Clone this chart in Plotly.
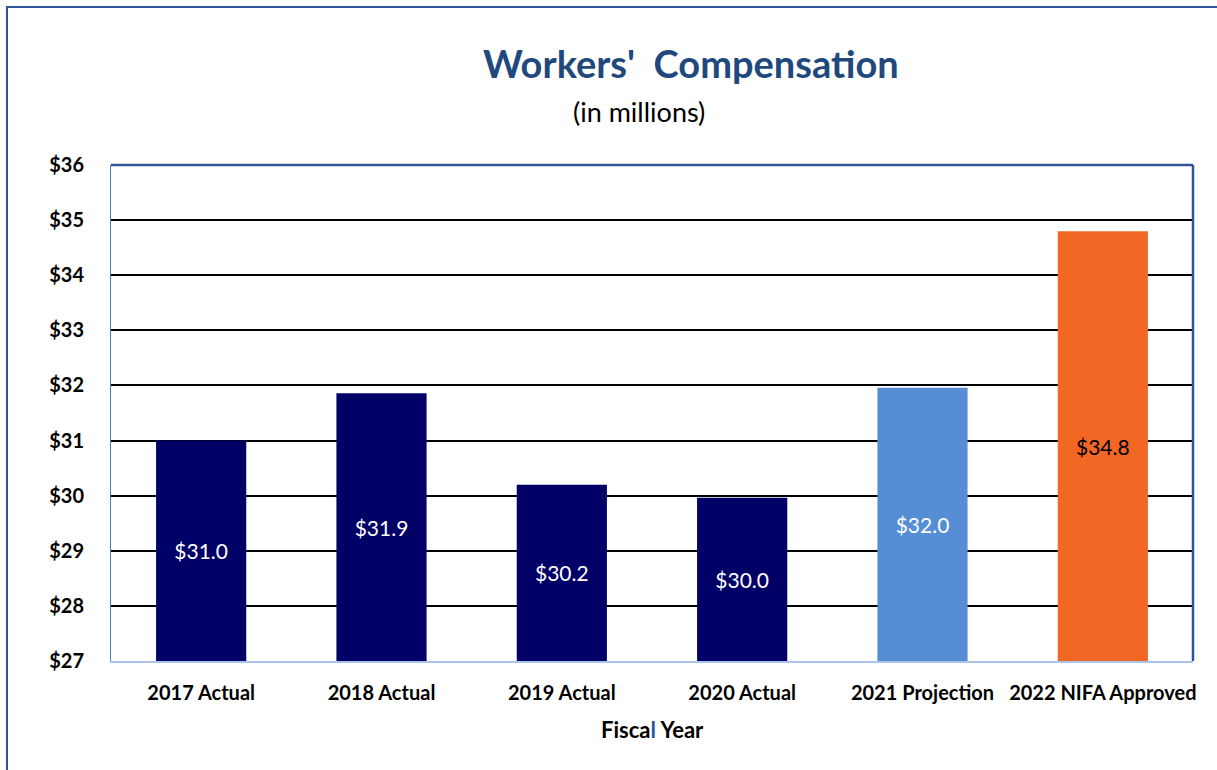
import plotly.graph_objects as go

categories = ["2017 Actual", "2018 Actual", "2019 Actual", "2020 Actual", "2021 Projection", "2022 NIFA Approved"]
values = [31.0, 31.86, 30.2, 29.96, 31.96, 34.8]
bar_colors = ["#000066", "#000066", "#000066", "#000066", "#558ED5", "#F26724"]
label_colors = ["#FFFFFF", "#FFFFFF", "#FFFFFF", "#FFFFFF", "#FFFFFF", "#000000"]
tick_vals = [27, 28, 29, 30, 31, 32, 33, 34, 35, 36]
tick_text = ["$27", "$28", "$29", "$30", "$31", "$32", "$33", "$34", "$35", "$36"]

FONT = "Lato, 'Open Sans', sans-serif"

fig = go.Figure(go.Bar(
    x=categories,
    y=[v - 27 for v in values],
    base=27,
    customdata=values,
    marker=dict(color=bar_colors, line=dict(width=0)),
    texttemplate="$%{customdata:.1f}",
    textposition="inside",
    insidetextanchor="middle",
    textfont=dict(family=FONT, size=21, color=label_colors),
    textangle=0,
    hoverinfo="skip",
))

W, H = 1217, 770
L, T = 111, 165
pw, ph = 1082, 496
R = W - L - pw
B = H - T - ph

def px_x(p):
    return (p - L) / pw

def px_y(p):
    return (T + ph - p) / ph

fig.update_layout(
    width=W, height=H,
    margin=dict(l=L, r=R, t=T, b=B),
    paper_bgcolor="white", plot_bgcolor="white",
    bargap=0.5,
    showlegend=False,
    font=dict(family=FONT, color="black"),
    xaxis=dict(
        showgrid=False, showline=True, linecolor="#A9C4E8", linewidth=2,
        tickfont=dict(family=FONT, size=20, color="black", weight="bold"),
        ticks="", ticklabelstandoff=13,
    ),
    yaxis=dict(
        range=[27, 36], tickvals=tick_vals, ticktext=tick_text,
        showgrid=True, gridcolor="black", gridwidth=2,
        showline=True, linecolor="#4F7AB5", linewidth=1,
        zeroline=False,
        tickfont=dict(family=FONT, size=20, color="black", weight="bold"),
        ticks="", ticklabelstandoff=22,
    ),
    shapes=[
        dict(type="line", xref="paper", yref="paper", x0=0, x1=1, y0=1, y1=1,
             line=dict(color="#2F5597", width=2.5)),
        dict(type="line", xref="paper", yref="paper", x0=1, x1=1, y0=0, y1=1,
             line=dict(color="#2F5597", width=2.5)),
        dict(type="rect", xref="paper", yref="paper",
             x0=px_x(7), x1=px_x(1240), y0=px_y(790), y1=px_y(7),
             line=dict(color="#2F5597", width=2), layer="below"),
    ],
    annotations=[
        dict(text="<b>Workers'  Compensation</b>", xref="paper", yref="paper",
             x=px_x(691), y=px_y(63), showarrow=False, xanchor="center", yanchor="middle",
             font=dict(family=FONT, size=38, color="#1F497D")),
        dict(text="(in millions)", xref="paper", yref="paper",
             x=px_x(639), y=px_y(112), showarrow=False, xanchor="center", yanchor="middle",
             font=dict(family=FONT, size=27, color="black")),
        dict(text="<b>Fisca<span style='color:#2F5597'>l</span> Year</b>", xref="paper", yref="paper",
             x=px_x(652), y=px_y(729), showarrow=False, xanchor="center", yanchor="middle",
             font=dict(family=FONT, size=22, color="black")),
    ],
)

fig.write_html("out.html", config={"displayModeBar": False},
               post_script="document.body.style.margin='0';document.body.style.overflow='hidden';")
